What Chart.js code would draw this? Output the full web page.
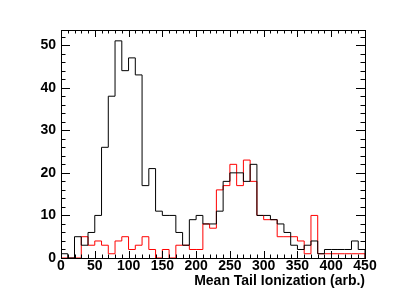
<!DOCTYPE html>
<html>
<head>
<meta charset="utf-8">
<script src="https://cdn.jsdelivr.net/npm/chart.js@4"></script>
<style>
  html, body { margin: 0; padding: 0; background: #fff; }
  #wrap { width: 406px; height: 305px; }
</style>
</head>
<body>
<div id="wrap"><canvas id="hist" width="406" height="305"></canvas></div>
<script>
// 45 bins of width 10 from 0 to 450
const binStart = 0;
const binWidth = 10;
const blackCounts = [1, 0, 5, 3, 6, 10, 26, 38, 51, 44, 47, 43, 17, 21, 11, 10, 10, 6, 3, 9,
  10, 8, 8, 11, 18, 20, 20, 18, 22, 10, 10, 9, 8, 6, 3, 2, 3, 4, 1, 2, 2, 2, 2, 4, 2];
const redCounts = [0, 0, 0, 5, 3, 4, 3, 1, 4, 5, 2, 3, 5, 2, 0, 2, 0, 3, 3, 2,
  2, 8, 7, 16, 17, 22, 17, 23, 18, 10, 9, 9, 5, 5, 5, 4, 1, 10, 1, 1, 1, 1, 1, 1, 1];
const xTicks = [0, 50, 100, 150, 200, 250, 300, 350, 400, 450];
const yTicks = [0, 10, 20, 30, 40, 50];
const xTitle = 'Mean Tail Ionization (arb.)';

// outline points: up from the baseline, one step per bin, back down at the end
function outline(counts) {
  const pts = [{x: binStart, y: 0}];
  counts.forEach((c, i) => pts.push({x: binStart + i * binWidth, y: c}));
  pts.push({x: binStart + counts.length * binWidth, y: 0});
  return pts;
}

const xMax = binStart + blackCounts.length * binWidth;
const yMax = Math.max(...blackCounts, ...redCounts) * 1.05;

// ROOT style frame with ticks pointing inward on all four sides
const frame = {
  id: 'frame',
  afterDatasetsDraw(chart) {
    const {ctx, chartArea: a, scales: {x, y}} = chart;
    ctx.save();
    ctx.strokeStyle = '#000';
    ctx.lineWidth = 1;
    ctx.beginPath();
    for (let v = 0; v <= xMax; v += 10) {
      const px = Math.round(x.getPixelForValue(v)) + 0.5;
      const len = v % 50 === 0 ? 7 : 3.5;
      ctx.moveTo(px, a.bottom); ctx.lineTo(px, a.bottom - len);
      ctx.moveTo(px, a.top); ctx.lineTo(px, a.top + len);
    }
    for (let v = 0; v <= yMax; v += 2) {
      const py = Math.round(y.getPixelForValue(v)) + 0.5;
      const len = v % 10 === 0 ? 9 : 4.5;
      ctx.moveTo(a.left, py); ctx.lineTo(a.left + len, py);
      ctx.moveTo(a.right, py); ctx.lineTo(a.right - len, py);
    }
    ctx.stroke();
    ctx.strokeRect(a.left + 0.5, a.top + 0.5, a.right - a.left, a.bottom - a.top);
    ctx.restore();
  }
};

const font = {family: '"Liberation Sans", Arial, sans-serif', size: 14, weight: 'bold'};

new Chart(document.getElementById('hist'), {
  type: 'line',
  data: {
    datasets: [
      {data: outline(blackCounts), borderColor: '#000', borderWidth: 1, stepped: 'before', pointRadius: 0, fill: false},
      {data: outline(redCounts), borderColor: '#ff0000', borderWidth: 1, stepped: 'before', pointRadius: 0, fill: false}
    ]
  },
  options: {
    responsive: false,
    animation: false,
    events: [],
    layout: {padding: {top: 30, right: 41, left: 0, bottom: 0}},
    plugins: {legend: {display: false}, tooltip: {enabled: false}},
    scales: {
      x: {
        type: 'linear', min: 0, max: xMax,
        grid: {display: false, drawTicks: false},
        border: {display: false},
        afterBuildTicks: s => { s.ticks = xTicks.map(v => ({value: v})); },
        afterFit: s => { s.height = 47; },
        ticks: {color: '#000', font, padding: 0, maxRotation: 0, autoSkip: false},
        title: {display: true, text: xTitle, align: 'end', color: '#000', font, padding: {top: 0, bottom: 15}}
      },
      y: {
        type: 'linear', min: 0, max: yMax,
        grid: {display: false, drawTicks: false},
        border: {display: false},
        afterBuildTicks: s => { s.ticks = yTicks.map(v => ({value: v})); },
        afterFit: s => { s.width = 61; },
        ticks: {color: '#000', font, padding: 5}
      }
    }
  },
  plugins: [frame]
});
</script>
</body>
</html>
